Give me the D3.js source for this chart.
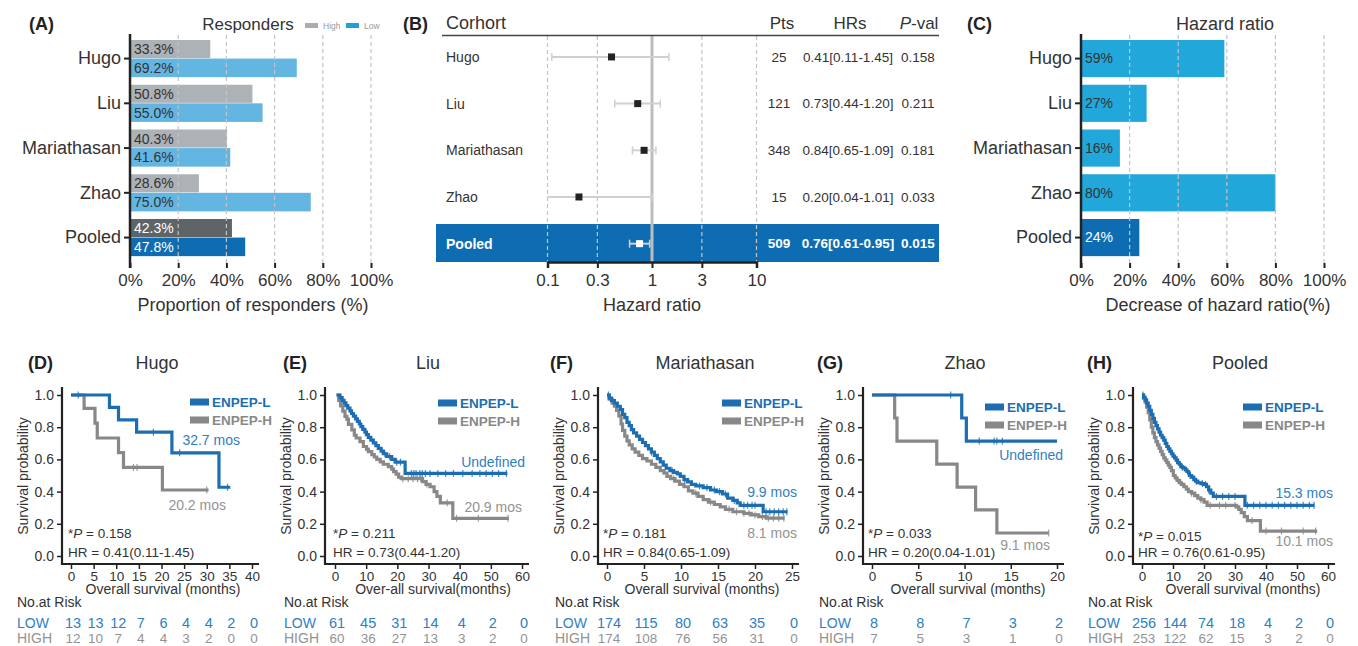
<!DOCTYPE html>
<html>
<head>
<meta charset="utf-8">
<script src="https://cdn.jsdelivr.net/npm/d3@7/dist/d3.min.js"></script>
<style>
  body { margin: 0; background: #fff; }
  svg text { font-family: "Liberation Sans", Arial, Helvetica, sans-serif; }
</style>
</head>
<body>
<svg id="fig" width="1358" height="646"></svg>
<script>
// ---------- data: panels A-C ----------
const cohorts = ["Hugo", "Liu", "Mariathasan", "Zhao", "Pooled"];
const respHigh = [33.3, 50.8, 40.3, 28.6, 42.3];
const respLow = [69.2, 55.0, 41.6, 75.0, 47.8];
const pctTicks = [0, 20, 40, 60, 80, 100];
const hrPts = [25, 121, 348, 15, 509];
const hrEst = [0.41, 0.73, 0.84, 0.20, 0.76];
const hrLow = [0.11, 0.44, 0.65, 0.04, 0.61];
const hrHigh = [1.45, 1.20, 1.09, 1.01, 0.95];
const hrPval = ["0.158", "0.211", "0.181", "0.033", "0.015"];
const hrTicks = [0.1, 0.3, 1, 3, 10];
const hrDecrease = [59, 27, 16, 80, 24];

// ---------- data: KM curves [months, survival] ----------
const kmHugoLow = [[0,1],[8.5,0.923],[10.5,0.846],[14.5,0.769],[22.3,0.641],[32.7,0.427],[35.2,0.427]];
const kmHugoHigh = [[0,1],[2.9,0.917],[5.3,0.825],[5.8,0.733],[10.5,0.642],[11.6,0.55],[20.2,0.41],[30.4,0.41]];
const kmLiuLow = [[0.5,1],[1.6,0.984],[2.3,0.967],[2.9,0.951],[3.5,0.934],[4.1,0.918],[4.8,0.902],[5.3,0.885],
  [5.9,0.869],[6.6,0.852],[7.2,0.836],[7.8,0.82],[8.3,0.803],[8.9,0.787],[9.6,0.77],[10.1,0.754],[10.7,0.737],
  [11.5,0.72],[12.3,0.703],[13.1,0.686],[13.9,0.669],[14.8,0.652],[15.5,0.635],[16.6,0.618],[18.2,0.6],
  [19.3,0.583],[22.5,0.513],[55.3,0.513]];
const kmLiuHigh = [[0.5,1],[1.2,0.967],[1.8,0.933],[2.5,0.9],[3.2,0.867],[3.8,0.85],[4.3,0.817],[5.4,0.783],
  [6.2,0.75],[6.8,0.733],[8,0.71],[9.1,0.68],[10.1,0.664],[10.7,0.648],[11.8,0.63],[12.6,0.615],[13.4,0.6],
  [14.5,0.585],[15.5,0.57],[17.1,0.555],[18.2,0.54],[18.8,0.524],[19.6,0.508],[20.4,0.49],[21.2,0.48],
  [28.1,0.462],[29.2,0.445],[30.5,0.43],[31.8,0.40],[32.7,0.37],[33.8,0.33],[37.8,0.234],[55.8,0.234]];
const kmMariaLow = [[0,1],[0.3,0.98],[0.6,0.965],[1,0.95],[1.4,0.93],[1.8,0.91],[2.1,0.88],[2.4,0.86],[2.7,0.83],
  [3,0.81],[3.3,0.785],[3.6,0.765],[4,0.745],[4.4,0.725],[4.8,0.705],[5.2,0.685],[5.6,0.665],[6,0.645],[6.4,0.625],
  [6.8,0.605],[7.2,0.585],[7.6,0.565],[8,0.545],[8.5,0.53],[9,0.52],[9.5,0.51],[9.9,0.495],[10.4,0.475],
  [10.9,0.46],[11.4,0.445],[12,0.435],[13,0.425],[14,0.41],[14.8,0.40],[15.6,0.385],[16.3,0.36],[17,0.345],
  [17.6,0.33],[18,0.315],[20.5,0.315],[21.1,0.275],[24.4,0.275]];
const kmMariaHigh = [[0,1],[0.3,0.975],[0.7,0.95],[1,0.93],[1.3,0.905],[1.6,0.87],[1.9,0.82],[2.1,0.78],[2.4,0.745],
  [2.7,0.715],[3,0.69],[3.4,0.665],[3.8,0.645],[4.3,0.625],[4.8,0.605],[5.4,0.59],[6,0.57],[6.6,0.55],[7.2,0.53],
  [7.7,0.515],[8.1,0.495],[8.6,0.48],[9.2,0.465],[9.8,0.445],[10.4,0.43],[11,0.405],[11.6,0.39],[12.3,0.37],
  [13,0.35],[13.7,0.335],[14.5,0.32],[15.3,0.305],[16,0.29],[17,0.275],[18.5,0.265],[19.5,0.255],[20.5,0.245],
  [21.5,0.235],[24,0.235]];
const kmZhaoLow = [[0,1],[9.7,0.857],[10.2,0.714],[20,0.714]];
const kmZhaoHigh = [[0,1],[2.45,0.857],[2.7,0.714],[7.0,0.571],[9.2,0.428],[11.2,0.286],[13.5,0.143],[19.1,0.143]];
const kmPooledLow = [[0,1],[0.5,0.985],[1,0.97],[1.5,0.95],[2,0.93],[2.5,0.905],[3,0.88],[3.5,0.855],[4,0.83],
  [4.5,0.81],[5,0.79],[5.5,0.77],[6,0.75],[6.5,0.735],[7,0.72],[7.5,0.70],[8,0.68],[8.5,0.665],[9,0.65],
  [9.5,0.635],[10,0.62],[10.5,0.61],[11,0.595],[11.5,0.58],[12,0.57],[12.5,0.555],[13,0.55],[13.5,0.545],
  [14,0.535],[14.5,0.525],[15,0.515],[15.3,0.50],[16,0.49],[16.7,0.475],[17.3,0.465],[18,0.455],[19,0.45],
  [20,0.445],[20.8,0.43],[21.5,0.41],[22.2,0.39],[23,0.37],[32.8,0.37],[33.2,0.315],[55.6,0.315]];
const kmPooledHigh = [[0,1],[0.5,0.98],[1,0.955],[1.5,0.925],[2,0.89],[2.5,0.845],[3,0.80],[3.5,0.765],[4,0.735],
  [4.5,0.71],[5,0.69],[5.5,0.67],[6,0.65],[6.5,0.63],[7,0.61],[7.5,0.595],[8,0.58],[8.5,0.565],[9,0.55],
  [9.5,0.53],[10.1,0.50],[10.7,0.485],[11.3,0.47],[12,0.455],[12.7,0.445],[13.5,0.43],[14.3,0.415],[15,0.40],
  [16,0.39],[17,0.375],[18,0.36],[19,0.35],[20,0.335],[21,0.315],[29.5,0.315],[30.5,0.305],[31.2,0.29],
  [32,0.27],[33,0.245],[34,0.22],[37.8,0.22],[38.2,0.155],[56.5,0.155]];

// censoring times
const censHugoLow = [1.6, 18.2, 24.0, 34.6];
const censHugoHigh = [13.8, 14.6, 30.0];
const censLiuLow = [16.0, 17.5, 19.8, 21.0, 24.5, 25.3, 26.0, 27.2, 28.0, 29.0, 30.5, 33.0, 35.5, 38.0, 41.0, 44.0, 46.5, 48.5, 50.5, 52.5, 55.0];
const censLiuHigh = [21.8, 23.5, 25.0, 26.5, 27.5, 29.5, 36.0, 39.0, 46.0, 55.5];
const censMariaLow = [0.2, 6.0, 8.8, 10.5, 12.5, 13.5, 14.5, 15.2, 16.0, 17.2, 18.5, 19.0, 19.6, 20.0, 21.5, 22.0, 22.6, 23.2, 23.8, 24.3];
const censMariaHigh = [9.0, 12.0, 14.0, 16.5, 17.5, 18.5, 19.2, 20.0, 21.0, 21.8, 22.5, 23.2, 23.9];
const censZhaoLow = [8.5, 11.6, 13.2, 13.5, 14.1];
const censZhaoHigh = [19.1];
const censPooledLow = [0.3, 13.0, 15.5, 17.5, 19.5, 20.5, 21.5, 24, 26, 28, 30, 34, 36, 38, 40, 42, 44, 46, 48, 50, 52, 54, 55.5];
const censPooledHigh = [12.5, 16.0, 19.0, 22.0, 25.0, 27.0, 30.0, 35.5, 40.0, 45.0, 52.0, 56.0];

// number at risk
const riskHugoLow = [13, 13, 12, 7, 6, 4, 4, 2, 0];
const riskHugoHigh = [12, 10, 7, 4, 4, 3, 2, 0, 0];
const riskLiuLow = [61, 45, 31, 14, 4, 2, 0];
const riskLiuHigh = [60, 36, 27, 13, 3, 2, 0];
const riskMariaLow = [174, 115, 80, 63, 35, 0];
const riskMariaHigh = [174, 108, 76, 56, 31, 0];
const riskZhaoLow = [8, 8, 7, 3, 2];
const riskZhaoHigh = [7, 5, 3, 1, 0];
const riskPooledLow = [256, 144, 74, 18, 4, 2, 0];
const riskPooledHigh = [253, 122, 62, 15, 3, 2, 0];

const kmMaxT = [40, 60, 25, 20, 60];
const kmStepT = [5, 10, 5, 5, 10];
const medLowTxt = ["32.7 mos", "Undefined", "9.9 mos", "Undefined", "15.3 mos"];
const medHighTxt = ["20.2 mos", "20.9 mos", "8.1 mos", "9.1 mos", "10.1 mos"];
const xTitles = ["Overall survival (months)", "Over-all survival(months)", "Overall survival (months)",
  "Overall survival (months)", "Overall survival (months)"];

const kmLow = [kmHugoLow, kmLiuLow, kmMariaLow, kmZhaoLow, kmPooledLow];
const kmHigh = [kmHugoHigh, kmLiuHigh, kmMariaHigh, kmZhaoHigh, kmPooledHigh];
const censLow = [censHugoLow, censLiuLow, censMariaLow, censZhaoLow, censPooledLow];
const censHigh = [censHugoHigh, censLiuHigh, censMariaHigh, censZhaoHigh, censPooledHigh];
const riskLow = [riskHugoLow, riskLiuLow, riskMariaLow, riskZhaoLow, riskPooledLow];
const riskHigh = [riskHugoHigh, riskLiuHigh, riskMariaHigh, riskZhaoHigh, riskPooledHigh];

// ---------- colours ----------
const INK = "#222";
const TXT = "#333";
const GRID = "#c4c4c4";
const DARKBLUE = "#0e6db2";
const KM_BLUE = "#1c6db1";
const KM_GRAY = "#888888";
const TXT_BLUE = "#2f7fc1";
const TXT_GRAY = "#939393";

const svg = d3.select("#fig");

function addText(g, x, y, txt, size, opts) {
  opts = opts || {};
  return g.append("text")
    .attr("x", x).attr("y", y).attr("dy", "0.35em")
    .attr("font-size", size)
    .attr("text-anchor", opts.anchor || "start")
    .attr("font-weight", opts.bold ? "bold" : null)
    .attr("fill", opts.fill || TXT)
    .text(txt);
}

// panel letters
[["(A)", 29, 24], ["(B)", 403, 24], ["(C)", 967, 24],
 ["(D)", 28, 363], ["(E)", 283, 363], ["(F)", 550, 363], ["(G)", 817, 363], ["(H)", 1087, 363]]
  .forEach(d => addText(svg, d[1], d[2], d[0], 18, {bold: true, fill: INK}));

// shared row band for A and C
const bandY = d3.scaleBand().domain(cohorts).range([36.2, 259.95]).paddingInner(0.17).paddingOuter(0.085);

function pctAxis(g, x, axisX, title, titleX) {
  // dashed grid
  g.selectAll("line.grid").data(pctTicks.slice(1)).join("line")
    .attr("class", "grid")
    .attr("x1", d => x(d)).attr("x2", d => x(d))
    .attr("y1", 35).attr("y2", 263)
    .attr("stroke", GRID).attr("stroke-width", 1.2).attr("stroke-dasharray", "4,3");
  const ax = g.append("g").attr("transform", "translate(0,263)")
    .call(d3.axisBottom(x).tickValues(pctTicks).tickFormat(d => d + "%").tickSize(5).tickPadding(6));
  ax.select(".domain").remove();
  ax.selectAll(".tick line").attr("stroke", INK).attr("stroke-width", 2);
  ax.selectAll(".tick text").attr("font-size", 17).attr("fill", TXT);
  const ay = g.append("g").attr("transform", `translate(${axisX},0)`)
    .call(d3.axisLeft(bandY).tickSize(6).tickPadding(3));
  ay.select(".domain").remove();
  ay.selectAll(".tick line").attr("stroke", INK).attr("stroke-width", 2);
  ay.selectAll(".tick text").attr("font-size", 18).attr("fill", TXT);
  g.append("line").attr("x1", axisX).attr("x2", axisX).attr("y1", 34).attr("y2", 268)
    .attr("stroke", INK).attr("stroke-width", 2.5);
  addText(g, titleX, 305, title, 18, {anchor: "middle"});
}

// ---------- panel A ----------
{
  const g = svg.append("g");
  const x = d3.scaleLinear().domain([0, 100]).range([130, 371]);
  const half = bandY.bandwidth() / 2;
  const rows = cohorts.map((c, i) => ({c, hi: respHigh[i], lo: respLow[i], pooled: c === "Pooled"}));
  const grp = g.selectAll("g.row").data(rows).join("g").attr("class", "row")
    .attr("transform", d => `translate(0,${bandY(d.c)})`);
  grp.append("rect").attr("x", x(0)).attr("y", 0).attr("height", half - 0.5)
    .attr("width", d => x(d.hi) - x(0)).attr("fill", d => d.pooled ? "#5f6467" : "#adb2b7");
  grp.append("rect").attr("x", x(0)).attr("y", half).attr("height", half)
    .attr("width", d => x(d.lo) - x(0)).attr("fill", d => d.pooled ? DARKBLUE : "#63b6e2");
  grp.append("text").attr("x", x(0) + 4).attr("y", half / 2).attr("dy", "0.35em").attr("font-size", 14)
    .attr("fill", d => d.pooled ? "#fff" : TXT).text(d => d.hi.toFixed(1) + "%");
  grp.append("text").attr("x", x(0) + 4).attr("y", half * 1.5).attr("dy", "0.35em").attr("font-size", 14)
    .attr("fill", d => d.pooled ? "#fff" : TXT).text(d => d.lo.toFixed(1) + "%");
  pctAxis(g, x, 130, "Proportion of responders (%)", 253);
  addText(g, 248, 24, "Responders", 17, {anchor: "middle"});
  g.append("rect").attr("x", 305).attr("y", 23).attr("width", 13).attr("height", 5).attr("fill", "#a9adb2");
  addText(g, 323, 26, "High", 8.5, {fill: "#999"});
  g.append("rect").attr("x", 346).attr("y", 23).attr("width", 13).attr("height", 5).attr("fill", "#1fa0d6");
  addText(g, 364, 26, "Low", 8.5, {fill: "#999"});
}

// ---------- panel B (forest) ----------
{
  const g = svg.append("g");
  const x = d3.scaleLog().domain([0.1, 10]).range([547.5, 756.5]);
  const row = d3.scaleBand().domain(cohorts).range([33.6, 267]);
  const cy = c => row(c) + row.bandwidth() / 2;
  g.append("rect").attr("x", 436).attr("y", 224).attr("width", 503).attr("height", 38).attr("fill", DARKBLUE);
  g.selectAll("line.vgrid").data(hrTicks.filter(d => d !== 1)).join("line")
    .attr("x1", d => x(d)).attr("x2", d => x(d)).attr("y1", 36).attr("y2", 262)
    .attr("stroke", GRID).attr("stroke-width", 1.2).attr("stroke-dasharray", "4,3");
  g.append("line").attr("x1", x(1)).attr("x2", x(1)).attr("y1", 36).attr("y2", 262)
    .attr("stroke", "#bdbdbd").attr("stroke-width", 3);
  g.append("line").attr("x1", 442).attr("x2", 939).attr("y1", 35.5).attr("y2", 35.5)
    .attr("stroke", "#444").attr("stroke-width", 1.3);

  const rows = cohorts.map((c, i) => ({c, i, pooled: c === "Pooled"}));
  rows.forEach(d => {
    const y = cy(d.c);
    const lo = Math.max(hrLow[d.i], 0.1), hi = hrHigh[d.i];
    g.append("line").attr("x1", x(lo)).attr("x2", x(hi)).attr("y1", y).attr("y2", y)
      .attr("stroke", "#d0d0d0").attr("stroke-width", 2);
    [hrLow[d.i], hi].forEach(v => {
      if (v < 0.1) return;
      g.append("line").attr("x1", x(v)).attr("x2", x(v)).attr("y1", y - 4).attr("y2", y + 4)
        .attr("stroke", "#d0d0d0").attr("stroke-width", 1.5);
    });
    g.append("rect").attr("x", x(hrEst[d.i]) - 3.5).attr("y", y - 3.5).attr("width", 7).attr("height", 7)
      .attr("fill", d.pooled ? "#fff" : INK);
    const col = d.pooled ? "#fff" : TXT;
    const hrTxt = `${hrEst[d.i].toFixed(2)}[${hrLow[d.i].toFixed(2)}-${hrHigh[d.i].toFixed(2)}]`;
    addText(g, 446, y, d.c, 14, {fill: col, bold: d.pooled});
    addText(g, 779, y, hrPts[d.i], 13.5, {fill: col, bold: d.pooled, anchor: "middle"});
    addText(g, 848, y, hrTxt, 13.5, {fill: col, bold: d.pooled, anchor: "middle"});
    addText(g, 918, y, hrPval[d.i], 13.5, {fill: col, bold: d.pooled, anchor: "middle"});
  });

  addText(g, 446, 23, "Corhort", 18);
  addText(g, 782, 23, "Pts", 17, {anchor: "middle"});
  addText(g, 850, 23, "HRs", 17, {anchor: "middle"});
  const pv = addText(g, 919, 23, "", 17, {anchor: "middle"});
  pv.append("tspan").attr("font-style", "italic").text("P");
  pv.append("tspan").text("-val");

  const ax = g.append("g").attr("transform", "translate(0,262)")
    .call(d3.axisBottom(x).tickValues(hrTicks).tickFormat(d3.format("~g")).tickSize(6).tickPadding(6));
  ax.select(".domain").attr("stroke", INK).attr("stroke-width", 2.5);
  ax.selectAll(".tick line").attr("stroke", INK).attr("stroke-width", 2);
  ax.selectAll(".tick text").attr("font-size", 17).attr("fill", TXT);
  addText(g, x(1), 305, "Hazard ratio", 18, {anchor: "middle"});
}

// ---------- panel C ----------
{
  const g = svg.append("g");
  const x = d3.scaleLinear().domain([0, 100]).range([1081, 1324]);
  const rows = cohorts.map((c, i) => ({c, v: hrDecrease[i], pooled: c === "Pooled"}));
  g.selectAll("rect.bar").data(rows).join("rect").attr("class", "bar")
    .attr("x", x(0)).attr("y", d => bandY(d.c)).attr("height", bandY.bandwidth())
    .attr("width", d => x(d.v) - x(0)).attr("fill", d => d.pooled ? DARKBLUE : "#22a7da");
  g.selectAll("text.val").data(rows).join("text").attr("class", "val")
    .attr("x", x(0) + 4).attr("y", d => bandY(d.c) + bandY.bandwidth() / 2).attr("dy", "0.35em")
    .attr("font-size", 14).attr("fill", d => d.pooled ? "#fff" : TXT).text(d => d.v + "%");
  pctAxis(g, x, 1081, "Decrease of hazard ratio(%)", 1218);
  addText(g, 1225, 24, "Hazard ratio", 18, {anchor: "middle"});
}

// ---------- panels D-H (Kaplan-Meier) ----------
const kmLayout = [
  {ox: 62, x0: 71, x1: 252, titleX: 157, xTitleX: 163, riskX: 17, legX: 190, legY: 402, mLow: [240, 440], mHigh: [226, 505], statX: 68, pY: 533},
  {ox: 325, x0: 335, x1: 522, titleX: 428, xTitleX: 433, riskX: 284, legX: 438, legY: 403, mLow: [525, 462], mHigh: [522, 507], statX: 333, pY: 533},
  {ox: 598, x0: 607, x1: 792, titleX: 705, xTitleX: 702, riskX: 555, legX: 722, legY: 403, mLow: [797, 492], mHigh: [797, 533], statX: 603, pY: 533},
  {ox: 863, x0: 872, x1: 1057, titleX: 965, xTitleX: 968, riskX: 819, legX: 985, legY: 407, mLow: [1063, 455], mHigh: [1050, 545], statX: 868, pY: 533},
  {ox: 1133, x0: 1142, x1: 1328, titleX: 1240, xTitleX: 1243, riskX: 1088, legX: 1243, legY: 407, mLow: [1333, 493], mHigh: [1333, 541], statX: 1138, pY: 536}
];

function survAt(pts, t) {
  let s = pts[0][1];
  pts.forEach(p => { if (p[0] <= t) s = p[1]; });
  return s;
}

cohorts.forEach((name, i) => {
  const L = kmLayout[i];
  const g = svg.append("g");
  const x = d3.scaleLinear().domain([0, kmMaxT[i]]).range([L.x0, L.x1]);
  const y = d3.scaleLinear().domain([0, 1]).range([556, 395]);
  const tt = d3.range(0, kmMaxT[i] + 0.001, kmStepT[i]);

  addText(g, L.titleX, 363, name, 18, {anchor: "middle"});

  // axes
  const ax = g.append("g").attr("transform", "translate(0,564)")
    .call(d3.axisBottom(x).tickValues(tt).tickSize(5).tickPadding(2));
  ax.select(".domain").remove();
  ax.selectAll(".tick line").attr("stroke", INK).attr("stroke-width", 1.5);
  ax.selectAll(".tick text").attr("font-size", 13.5).attr("fill", TXT);
  const ay = g.append("g").attr("transform", `translate(${L.ox},0)`)
    .call(d3.axisLeft(y).tickValues([0, 0.2, 0.4, 0.6, 0.8, 1]).tickFormat(d3.format(".1f")).tickSize(5).tickPadding(3));
  ay.select(".domain").remove();
  ay.selectAll(".tick line").attr("stroke", INK).attr("stroke-width", 1.5);
  ay.selectAll(".tick text").attr("font-size", 14).attr("fill", TXT);
  g.append("line").attr("x1", L.ox).attr("x2", L.ox).attr("y1", 387).attr("y2", 565)
    .attr("stroke", INK).attr("stroke-width", 2.2);
  g.append("line").attr("x1", L.ox).attr("x2", L.x1 + 7).attr("y1", 564).attr("y2", 564)
    .attr("stroke", INK).attr("stroke-width", 2.2);

  addText(g, L.xTitleX, 589, xTitles[i], 14, {anchor: "middle"});
  g.append("text").attr("transform", `translate(${L.ox - 39},476) rotate(-90)`)
    .attr("dy", "0.35em").attr("text-anchor", "middle").attr("font-size", 14).attr("fill", TXT)
    .text("Survival probability");

  // curves
  const line = d3.line().x(d => x(d[0])).y(d => y(d[1])).curve(d3.curveStepAfter);
  [[kmHigh[i], censHigh[i], KM_GRAY], [kmLow[i], censLow[i], KM_BLUE]].forEach(([pts, cens, col]) => {
    g.append("path").attr("d", line(pts)).attr("fill", "none")
      .attr("stroke", col).attr("stroke-width", 3.2);
    g.selectAll(null).data(cens).join("line")
      .attr("x1", d => x(d)).attr("x2", d => x(d))
      .attr("y1", d => y(survAt(pts, d)) - 3.5).attr("y2", d => y(survAt(pts, d)) + 3.5)
      .attr("stroke", col).attr("stroke-width", 1.2).attr("opacity", 0.8);
  });

  // legend
  g.append("rect").attr("x", L.legX).attr("y", L.legY - 3.5).attr("width", 19).attr("height", 7).attr("fill", KM_BLUE);
  addText(g, L.legX + 22, L.legY, "ENPEP-L", 13.5, {bold: true, fill: KM_BLUE});
  g.append("rect").attr("x", L.legX).attr("y", L.legY + 14.5).attr("width", 19).attr("height", 7).attr("fill", KM_GRAY);
  addText(g, L.legX + 22, L.legY + 18, "ENPEP-H", 13.5, {bold: true, fill: KM_GRAY});

  // medians and stats
  addText(g, L.mLow[0], L.mLow[1], medLowTxt[i], 14, {anchor: "end", fill: TXT_BLUE});
  addText(g, L.mHigh[0], L.mHigh[1], medHighTxt[i], 14, {anchor: "end", fill: TXT_GRAY});
  const p = addText(g, L.statX, L.pY, "*", 13.5);
  p.append("tspan").attr("font-style", "italic").text("P");
  p.append("tspan").text(" = " + hrPval[i]);
  addText(g, L.statX, 552,
    `HR = ${hrEst[i].toFixed(2)}(${hrLow[i].toFixed(2)}-${hrHigh[i].toFixed(2)})`, 13.5);

  // number at risk
  addText(g, L.riskX, 602, "No.at Risk", 14);
  addText(g, L.riskX, 623, "LOW", 14, {fill: TXT_BLUE});
  addText(g, L.riskX, 638, "HIGH", 14, {fill: TXT_GRAY});
  g.selectAll(null).data(riskLow[i]).join("text")
    .attr("x", (d, j) => x(tt[j]) + 2).attr("y", 623).attr("dy", "0.35em")
    .attr("text-anchor", "middle").attr("font-size", 14.5).attr("fill", TXT_BLUE).text(d => d);
  g.selectAll(null).data(riskHigh[i]).join("text")
    .attr("x", (d, j) => x(tt[j]) + 2).attr("y", 638).attr("dy", "0.35em")
    .attr("text-anchor", "middle").attr("font-size", 13.5).attr("fill", TXT_GRAY).text(d => d);
});
</script>
</body>
</html>
